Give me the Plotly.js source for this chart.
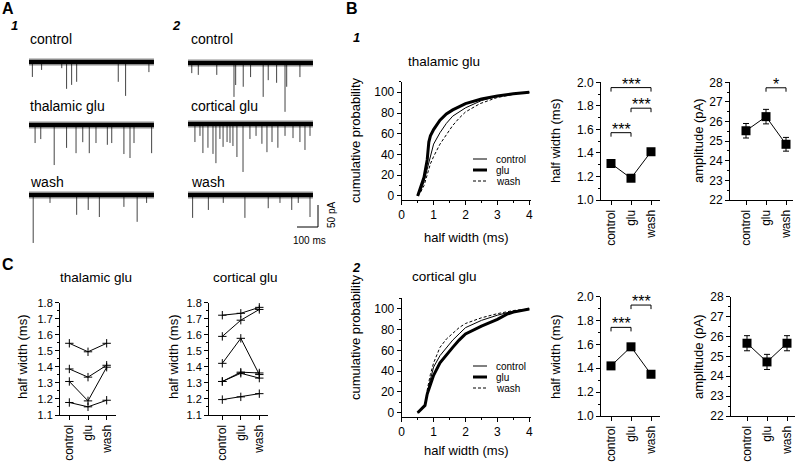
<!DOCTYPE html>
<html><head><meta charset="utf-8">
<script src="https://cdn.plot.ly/plotly-3.0.1.min.js"></script>
<style>html,body{margin:0;padding:0;background:#fff}#chart{width:798px;height:464px}</style>
</head><body><div id="chart"></div>
<script>
// ---------------- DATA ----------------
// Panel A: sample traces, event times (ms from trace start) and amplitudes (pA, inward)
const traceDurMs = 595;
const a1CtrlT = [16, 60, 156, 179, 203, 227, 425, 460, 571];
const a1CtrlA = [34, 18, 14, 61, 52, 45, 45, 77, 23];
const a1ThalT = [29, 56, 120, 179, 224, 256, 287, 319, 373, 394, 452, 481, 500, 584];
const a1ThalA = [41, 32, 91, 52, 64, 39, 64, 41, 45, 41, 66, 75, 41, 64];
const a1WashT = [20, 100, 227, 282, 335, 452, 515, 560];
const a1WashA = [109, 18, 45, 34, 50, 27, 61, 18];
const a2CtrlT = [18, 49, 137, 219, 227, 263, 298, 358, 382, 422, 462, 470, 533];
const a2CtrlA = [23, 27, 27, 77, 50, 54, 32, 77, 39, 45, 111, 54, 32];
const a2CortT = [33, 57, 71, 95, 119, 133, 152, 167, 186, 200, 214, 233, 262, 295, 324, 352, 376, 400, 428, 462, 500, 533, 557, 581];
const a2CortA = [41, 27, 66, 54, 68, 89, 34, 52, 41, 43, 50, 75, 109, 34, 27, 45, 64, 41, 54, 27, 32, 41, 59, 27];
const a2WashT = [22, 97, 168, 271, 382, 438, 494, 525, 581];
const a2WashA = [52, 34, 18, 52, 30, 18, 34, 18, 50];
const scaleBarMs = 100, scaleBarPA = 50;

// Panel B: cumulative distributions of half width (ms) vs cumulative probability (%)
const thalCtrlX = [0.5, 0.6, 0.7, 0.8, 0.9, 1.0, 1.2, 1.4, 1.6, 2.0, 2.5, 3.0, 3.5, 4.0];
const thalCtrlY = [0, 5, 14, 27, 40, 50, 61, 70, 77, 85, 92, 96, 98.5, 100];
const thalGluX = [0.5, 0.6, 0.7, 0.8, 0.85, 0.9, 1.0, 1.2, 1.4, 1.6, 2.0, 2.5, 3.0, 3.5, 4.0];
const thalGluY = [0, 8, 18, 35, 52, 58, 64, 73, 79, 83, 89, 93.5, 96.5, 98.5, 100];
const thalWashX = [0.5, 0.6, 0.7, 0.8, 0.9, 1.0, 1.1, 1.2, 1.4, 1.6, 1.8, 2.0, 2.45, 3.0, 3.5, 4.0];
const thalWashY = [0, 4, 10, 20, 31, 38, 44, 50, 59, 68, 75, 81, 89, 95, 98, 100];
const cortCtrlX = [0.5, 0.6, 0.73, 0.8, 0.9, 1.0, 1.2, 1.4, 1.6, 1.8, 2.0, 2.5, 3.0, 3.5, 4.0];
const cortCtrlY = [0, 3, 7, 20, 33, 44, 55, 63, 70, 76, 82, 89, 94, 98, 100];
const cortGluX = [0.5, 0.6, 0.73, 0.8, 0.9, 1.0, 1.2, 1.4, 1.6, 1.8, 2.0, 2.5, 3.0, 3.3, 3.5, 4.0];
const cortGluY = [0, 3, 7, 18, 28, 36, 48, 56, 63, 70, 76, 83.5, 90, 95, 97, 100];
const cortWashX = [0.5, 0.6, 0.73, 0.8, 0.9, 1.0, 1.2, 1.4, 1.6, 1.8, 2.0, 2.5, 3.0, 3.5, 4.0];
const cortWashY = [0, 3, 7, 22, 37, 48, 63, 71, 77, 82, 86, 91.5, 95.5, 98.5, 100];

// Panel B: means ± SEM
const conds = ['control', 'glu', 'wash'];
const thalHW = [1.31, 1.185, 1.41];
const thalHWErr = [0.01, 0.01, 0.01];
const thalAmp = [25.53, 26.25, 24.84];
const thalAmpErr = [0.37, 0.37, 0.35];
const cortHW = [1.42, 1.58, 1.35];
const cortHWErr = [0.01, 0.01, 0.01];
const cortAmp = [25.66, 24.72, 25.66];
const cortAmpErr = [0.38, 0.38, 0.38];
// significance brackets: [from, to, level, label]
const thalHWSig = [[0, 1, 1.572, '***'], [1, 2, 1.78, '***'], [0, 2, 1.955, '***']];
const thalAmpSig = [[1, 2, 27.72, '*']];
const cortHWSig = [[0, 1, 1.743, '***'], [1, 2, 1.93, '***']];

// Panel C: individual cells, half width (ms) for control / glu / wash
const cThalCells = [[1.547, 1.494, 1.547], [1.387, 1.336, 1.41], [1.309, 1.188, 1.398], [1.178, 1.151, 1.192]];
const cCortCells = [[1.722, 1.734, 1.771], [1.59, 1.691, 1.758], [1.422, 1.578, 1.352], [1.309, 1.367, 1.362], [1.309, 1.36, 1.33], [1.196, 1.213, 1.233]];

// ---------------- DRAWING ----------------
const W = 798, H = 464;
const px = x => x / W, py = y => 1 - y / H;
const domX = (a, b) => [a / W, b / W];
const domY = (a, b) => [1 - b / H, 1 - a / H];
const F = 'Liberation Sans, Arial, Helvetica, sans-serif';
const traces = [], shapes = [], ann = [];

// ---- Panel A ----
const A = {x0: 29, x1: 329, y0: 30, y1: 260, pxPerMs: 0.21, pxPerPA: 0.44};
const msAt = p => (p - A.x0) / A.pxPerMs;
const paAt = p => -(p - A.y0) / A.pxPerPA;
const aSets = [
  {t: a1CtrlT, a: a1CtrlA, col: 29, row: 62},
  {t: a1ThalT, a: a1ThalA, col: 29, row: 125},
  {t: a1WashT, a: a1WashA, col: 29, row: 195},
  {t: a2CtrlT, a: a2CtrlA, col: 188, row: 63},
  {t: a2CortT, a: a2CortA, col: 188, row: 124},
  {t: a2WashT, a: a2WashA, col: 188, row: 195}
];
aSets.forEach(s => {
  const x0 = msAt(s.col), b = paAt(s.row);
  const xs = [], ys = [];
  s.t.forEach((t, i) => { xs.push(x0 + t, x0 + t, null); ys.push(b, b - s.a[i], null); });
  traces.push({type: 'scatter', mode: 'lines', x: xs, y: ys, xaxis: 'x', yaxis: 'y',
    line: {color: '#444', width: 1}, hoverinfo: 'skip', showlegend: false});
  traces.push({type: 'scatter', mode: 'lines', x: [x0, x0 + traceDurMs], y: [b, b], xaxis: 'x', yaxis: 'y',
    line: {color: 'rgba(0,0,0,0.45)', width: 7}, hoverinfo: 'skip', showlegend: false});
  traces.push({type: 'scatter', mode: 'lines', x: [x0, x0 + traceDurMs], y: [b, b], xaxis: 'x', yaxis: 'y',
    line: {color: '#000', width: 4}, hoverinfo: 'skip', showlegend: false});
});
const sbX = msAt(318), sbY = paAt(227);
traces.push({type: 'scatter', mode: 'lines', x: [sbX - scaleBarMs, sbX, sbX], y: [sbY, sbY, sbY + scaleBarPA],
  xaxis: 'x', yaxis: 'y', line: {color: '#000', width: 1}, hoverinfo: 'skip', showlegend: false});

const hidden = (dom, range, anchor) => ({domain: dom, range: range, anchor: anchor, visible: false, fixedrange: true});

const layout = {
  width: W, height: H, margin: {l: 0, r: 0, t: 0, b: 0},
  paper_bgcolor: '#fff', plot_bgcolor: 'rgba(0,0,0,0)', showlegend: false,
  font: {family: F, size: 12, color: '#000'},
  xaxis: hidden(domX(A.x0, A.x1), [0, msAt(A.x1)], 'y'),
  yaxis: hidden(domY(A.y0, A.y1), [paAt(A.y1), 0], 'x')
};

function numAxis(dom, range, anchor, dtick, minorD, fmt, fsize, tick0) {
  return {domain: dom, range: range, anchor: anchor, showline: true, linecolor: '#000', linewidth: 1,
    ticks: 'outside', ticklen: 4, tickwidth: 1, tickcolor: '#000', dtick: dtick, tick0: tick0 || 0,
    tickformat: fmt, showgrid: false, zeroline: false, fixedrange: true,
    tickfont: {family: F, size: fsize, color: '#000'},
    minor: {dtick: minorD, tick0: tick0 || 0, ticks: 'outside', ticklen: 2, tickcolor: '#000', showgrid: false}};
}
function catAxis(dom, range, anchor, fsize) {
  return {domain: dom, range: range, anchor: anchor, showline: true, linecolor: '#000', linewidth: 1,
    ticks: 'outside', ticklen: 4, tickcolor: '#000', tickvals: [0, 1, 2], ticktext: conds, tickangle: -90,
    showgrid: false, zeroline: false, fixedrange: true, tickfont: {family: F, size: fsize, color: '#000'}};
}

// ---- Panel B: CDFs ----
function cdfPanel(n, yTop, yBot, yr, sets, legY) {
  layout['xaxis' + n] = numAxis(domX(401.7, 530.9), [0, 4.05], 'y' + n, 1, 0.5, 'd', 12);
  layout['yaxis' + n] = numAxis(domY(yTop, yBot), yr, 'x' + n, 20, 10, 'd', 12);
  sets.forEach((s, i) => {
    traces.push({type: 'scatter', mode: 'lines', x: s.x, y: s.y, xaxis: 'x' + n, yaxis: 'y' + n,
      line: s.line, hoverinfo: 'skip', showlegend: false});
    shapes.push({type: 'line', xref: 'paper', yref: 'paper', x0: px(473), x1: px(487),
      y0: py(legY[i]), y1: py(legY[i]), line: s.line});
    ann.push({xref: 'paper', yref: 'paper', x: px(495), y: py(legY[i]), xanchor: 'left', yanchor: 'middle',
      text: conds[i], showarrow: false, borderpad: 0, font: {family: F, size: 10, color: '#000'}});
  });
}
const lnCtrl = {color: '#000', width: 1}, lnGlu = {color: '#000', width: 3}, lnWash = {color: '#000', width: 1, dash: '3px,2px'};
cdfPanel(2, 81.7, 200, [-3.9, 110.2], [
  {x: thalCtrlX, y: thalCtrlY, line: lnCtrl}, {x: thalGluX, y: thalGluY, line: lnGlu}, {x: thalWashX, y: thalWashY, line: lnWash}
], [159, 170, 181]);
cdfPanel(5, 298.3, 416.7, [-3.86, 110.3], [
  {x: cortCtrlX, y: cortCtrlY, line: lnCtrl}, {x: cortGluX, y: cortGluY, line: lnGlu}, {x: cortWashX, y: cortWashY, line: lnWash}
], [366, 377, 388]);

// ---- Panel B: mean plots ----
function meanPanel(n, xd, xr, yTop, yBot, yr, dtick, minorD, fmt, vals, errs, sig, drop, tick0) {
  layout['xaxis' + n] = catAxis(domX(xd[0], xd[1]), xr, 'y' + n, 12);
  layout['yaxis' + n] = numAxis(domY(yTop, yBot), yr, 'x' + n, dtick, minorD, fmt, 12, tick0);
  traces.push({type: 'scatter', mode: 'lines+markers', x: [0, 1, 2], y: vals, xaxis: 'x' + n, yaxis: 'y' + n,
    line: {color: '#000', width: 1}, marker: {symbol: 'square', size: 9, color: '#000'},
    error_y: {type: 'data', array: errs, visible: true, color: '#000', thickness: 1, width: 3},
    hoverinfo: 'skip', showlegend: false, cliponaxis: false});
  sig.forEach(s => {
    const [a, b, lv, lab] = s;
    shapes.push({type: 'path', xref: 'x' + n, yref: 'y' + n,
      path: `M ${a},${lv - drop} L ${a},${lv} L ${b},${lv} L ${b},${lv - drop}`, line: {color: '#000', width: 1}});
    ann.push({xref: 'x' + n, yref: 'y' + n, x: (a + b) / 2, y: lv, xanchor: 'center', yanchor: 'bottom', yshift: -7,
      text: lab, showarrow: false, font: {family: F, size: 16, color: '#000'}});
  });
}
meanPanel(3, [601, 660], [-0.5, 2.45], 82.3, 200, [1, 2], 0.2, 0.1, '.1f', thalHW, thalHWErr, thalHWSig, 0.034, 1);
meanPanel(4, [730, 793], [-0.8, 2.35], 82.3, 200, [22, 28], 1, 0.5, 'd', thalAmp, thalAmpErr, thalAmpSig, 0.2, 22);
meanPanel(6, [601, 660], [-0.5, 2.45], 296.7, 416, [1, 2], 0.2, 0.1, '.1f', cortHW, cortHWErr, cortHWSig, 0.034, 1);
meanPanel(7, [731, 795], [-0.8, 2.4], 296.7, 416, [22, 28], 1, 0.5, 'd', cortAmp, cortAmpErr, [], 0.2, 22);

// ---- Panel C ----
function cellPanel(n, xd, xr, cells) {
  layout['xaxis' + n] = catAxis(domX(xd[0], xd[1]), xr, 'y' + n, 12);
  layout['yaxis' + n] = numAxis(domY(302.7, 415), [1.1, 1.8], 'x' + n, 0.1, 0.05, '.1f', 11, 1.1);
  cells.forEach(c => {
    traces.push({type: 'scatter', mode: 'lines+markers', x: [0, 1, 2], y: c, xaxis: 'x' + n, yaxis: 'y' + n,
      line: {color: '#000', width: 1}, marker: {symbol: 'cross-thin', size: 6, color: '#000', line: {color: '#000', width: 1}},
      hoverinfo: 'skip', showlegend: false, cliponaxis: false});
  });
}
cellPanel(8, [60, 116], [-0.5, 2.5], cThalCells);
cellPanel(9, [209, 268], [-0.72, 2.47], cCortCells);

// ---- Text annotations ----
function t(x, y, text, opts) {
  ann.push(Object.assign({xref: 'paper', yref: 'paper', x: px(x), y: py(y), text: text, showarrow: false,
    xanchor: 'center', yanchor: 'middle', font: {family: F, size: 13, color: '#000'}}, opts || {}));
}
t(8, 9, '<b>A</b>', {font: {family: F, size: 16, color: '#000'}});
t(344, 9, '<b>B</b>', {font: {family: F, size: 16, color: '#000'}, xanchor: 'left'});
t(8, 264, '<b>C</b>', {font: {family: F, size: 16, color: '#000'}});
t(14, 26, '<b><i>1</i></b>', {font: {family: F, size: 13, color: '#000'}});
t(176, 26, '<b><i>2</i></b>', {font: {family: F, size: 13, color: '#000'}});
t(356, 38, '<b><i>1</i></b>', {font: {family: F, size: 13, color: '#000'}});
t(356, 267, '<b><i>2</i></b>', {font: {family: F, size: 13, color: '#000'}});
// A labels
const aLab = {xanchor: 'left', font: {family: F, size: 14, color: '#000'}};
t(28, 39, 'control', aLab); t(28, 106, 'thalamic glu', aLab); t(28, 182, 'wash', aLab);
t(189, 39, 'control', aLab); t(189, 106, 'cortical glu', aLab); t(189, 182, 'wash', aLab);
t(331, 215, '50 pA', {textangle: -90, font: {family: F, size: 10, color: '#000'}});
t(309, 240, '100 ms', {font: {family: F, size: 10, color: '#000'}});
// titles
const ttl = {font: {family: F, size: 13.5, color: '#000'}};
t(444, 62, 'thalamic glu', ttl); t(444, 276, 'cortical glu', ttl);
t(96, 277, 'thalamic glu', ttl); t(245, 277, 'cortical glu', ttl);
const ax = {font: {family: F, size: 13, color: '#000'}};
const axV = {textangle: -90, font: {family: F, size: 13, color: '#000'}};
t(355, 140, 'cumulative probability', axV); t(355, 337, 'cumulative probability', axV);
t(466, 237, 'half width (ms)', ax); t(466, 450, 'half width (ms)', ax);
t(555, 141, 'half width (ms)', axV); t(555, 357, 'half width (ms)', axV);
t(698, 141, 'amplitude (pA)', axV); t(698, 357, 'amplitude (pA)', axV);
t(22, 357, 'half width (ms)', axV); t(173, 357, 'half width (ms)', axV);

layout.shapes = shapes;
layout.annotations = ann;
Plotly.newPlot('chart', traces, layout, {displayModeBar: false, staticPlot: true});
</script></body></html>
